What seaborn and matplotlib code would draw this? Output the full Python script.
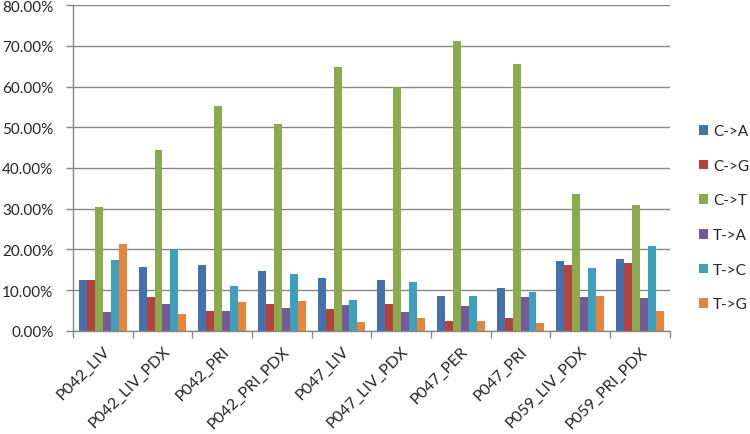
import matplotlib
matplotlib.use("Agg")
import matplotlib.pyplot as plt
import matplotlib.ticker as mticker
import numpy as np
import pandas as pd
import seaborn as sns

samples = ["P042_LIV", "P042_LIV_PDX", "P042_PRI", "P042_PRI_PDX", "P047_LIV",
           "P047_LIV_PDX", "P047_PER", "P047_PRI", "P059_LIV_PDX", "P059_PRI_PDX"]
mutations = ["C->A", "C->G", "C->T", "T->A", "T->C", "T->G"]

c_to_a = [12.6, 15.7, 16.2, 14.8, 13.0, 12.6, 8.6, 10.6, 17.1, 17.6]
c_to_g = [12.6, 8.4, 4.9, 6.6, 5.3, 6.6, 2.4, 3.1, 16.1, 16.6]
c_to_t = [30.4, 44.4, 55.1, 50.8, 64.8, 59.9, 71.2, 65.5, 33.7, 30.8]
t_to_a = [4.6, 6.6, 4.9, 5.7, 6.5, 4.6, 6.1, 8.4, 8.3, 8.2]
t_to_c = [17.5, 20.0, 11.1, 14.0, 7.6, 12.0, 8.6, 9.6, 15.4, 20.8]
t_to_g = [21.4, 4.1, 7.0, 7.4, 2.1, 3.2, 2.4, 2.0, 8.7, 5.0]

colors = ["#4470AB", "#B5423F", "#8BAA4D", "#745A99", "#3FA0BC", "#E5843A"]

series = [c_to_a, c_to_g, c_to_t, t_to_a, t_to_c, t_to_g]
df = pd.DataFrame({
    "sample": np.tile(samples, len(mutations)),
    "mutation": np.repeat(mutations, len(samples)),
    "fraction": np.concatenate(series) / 100.0,
})

sns.set_theme(style="white")
plt.rcParams["font.family"] = ["Lato", "DejaVu Sans"]

fig = plt.figure(figsize=(7.5, 4.35), dpi=100)
ax = fig.add_axes([0.0973, 0.2368, 0.893 - 0.0973, 0.9862 - 0.2368])

sns.barplot(data=df, x="sample", y="fraction", hue="mutation", hue_order=mutations,
            order=samples, palette=colors, width=0.8, saturation=1, linewidth=0,
            ax=ax, legend=True)

ax.set_ylim(0, 0.8)
ax.set_xlim(-0.5, len(samples) - 0.5)
ax.yaxis.set_major_locator(mticker.MultipleLocator(0.1))
ax.yaxis.set_major_formatter(mticker.PercentFormatter(1.0, decimals=2))
ax.grid(axis="y", color="#888888", linewidth=1.0)
ax.set_axisbelow(True)
ax.set_xlabel("")
ax.set_ylabel("")

for side in ["top", "right"]:
    ax.spines[side].set_visible(False)
for side in ["left", "bottom"]:
    ax.spines[side].set_color("#888888")
    ax.spines[side].set_linewidth(1.0)

ax.set_xticks(np.arange(len(samples)))
ax.set_xticklabels(samples, rotation=45, ha="right", rotation_mode="anchor", fontsize=11.5)
ax.tick_params(axis="x", which="major", length=0, pad=9)
ax.set_xticks(np.arange(len(samples) + 1) - 0.5, minor=True)
ax.tick_params(axis="x", which="minor", length=5, color="#888888", width=1.0, bottom=True)
ax.tick_params(axis="y", length=5, color="#888888", width=1.0, labelsize=11, pad=9, left=True)

handles, labels = ax.get_legend_handles_labels()
ax.get_legend().remove()
fig.legend(handles, labels, loc="center left", bbox_to_anchor=(0.913, 0.497),
           frameon=False, fontsize=11, handlelength=0.6, handleheight=0.6,
           handletextpad=0.35, labelspacing=1.35)

fig.savefig("out.png", dpi=100)
